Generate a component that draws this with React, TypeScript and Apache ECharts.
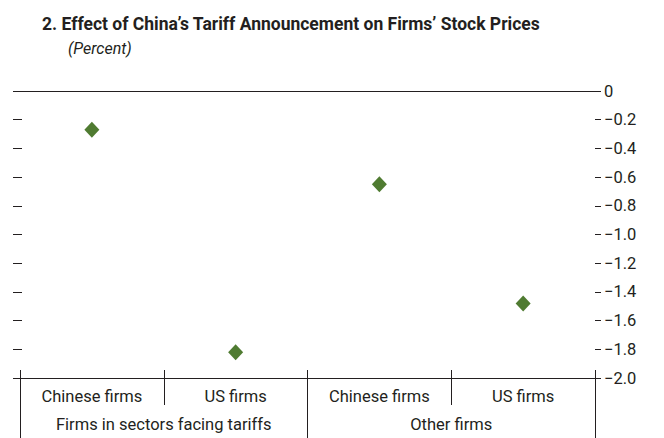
import React, { useEffect, useRef } from "react";
import * as echarts from "echarts";

const firmLabels = ["Chinese firms", "US firms", "Chinese firms", "US firms"];
const groupLabels = ["Firms in sectors facing tariffs", "Other firms"];
const effectValues = [-0.27, -1.82, -0.65, -1.48];
const yMin = -2;
const yMax = 0;
const yStep = 0.2;

const FONT = "Roboto, 'Liberation Sans', sans-serif";
const INK = "#231f20";

export default function App() {
  const ref = useRef<HTMLDivElement>(null);
  useEffect(() => {
    if (!ref.current) return;
    const chart = echarts.init(ref.current, null, { renderer: "svg" });
    const fmt = (v: number) => (v === 0 ? "0" : "\u2212" + Math.abs(v).toFixed(1));
    chart.setOption({
      animation: false,
      textStyle: { fontFamily: FONT, color: INK },
      title: [
        {
          text: "2. Effect of China\u2019s Tariff Announcement on Firms\u2019 Stock Prices",
          left: 37,
          top: 10,
          textStyle: { fontFamily: FONT, fontSize: 17.5, fontWeight: "bold", color: INK },
        },
        {
          text: "(Percent)",
          left: 63,
          top: 35,
          textStyle: { fontFamily: FONT, fontSize: 16, fontStyle: "italic", fontWeight: "normal", color: INK },
        },
      ],
      grid: { left: 20, right: 69, top: 91, bottom: 60, containLabel: false },
      xAxis: [
        {
          type: "category",
          position: "bottom",
          data: firmLabels,
          axisLine: { show: true, onZero: false, lineStyle: { color: INK, width: 1.2 } },
          axisTick: { show: true, interval: 0, length: 27, lineStyle: { color: INK, width: 1 } },
          axisLabel: { interval: 0, margin: 10, fontSize: 16.5, color: INK, fontFamily: FONT },
          splitLine: { show: false },
        },
        {
          type: "category",
          position: "bottom",
          data: firmLabels,
          axisLine: { show: false, onZero: false },
          axisTick: { show: true, inside: true, interval: 0, length: 8, lineStyle: { color: INK, width: 1 } },
          axisLabel: { show: false },
          splitLine: { show: false },
        },
        {
          type: "category",
          position: "bottom",
          data: groupLabels,
          axisLine: { show: false, onZero: false },
          axisTick: { show: true, interval: 0, length: 60, lineStyle: { color: INK, width: 1 } },
          axisLabel: { interval: 0, margin: 38, fontSize: 16.5, color: INK, fontFamily: FONT },
          splitLine: { show: false },
        },
        {
          type: "category",
          position: "top",
          data: firmLabels,
          axisLine: { show: true, onZero: false, lineStyle: { color: INK, width: 1.2 } },
          axisTick: { show: false },
          axisLabel: { show: false },
          splitLine: { show: false },
        },
      ],
      yAxis: [
        {
          type: "value",
          position: "right",
          offset: 0,
          min: yMin,
          max: yMax,
          interval: yStep,
          axisLine: { show: false },
          axisTick: { show: true, length: 6, lineStyle: { color: INK, width: 1 } },
          axisLabel: { margin: 9, fontSize: 16.5, color: INK, fontFamily: FONT, formatter: fmt },
          splitLine: { show: false },
        },
        {
          type: "value",
          position: "left",
          offset: -2,
          min: yMin,
          max: yMax,
          interval: yStep,
          axisLine: { show: false },
          axisTick: { show: true, length: 9, lineStyle: { color: INK, width: 1 } },
          axisLabel: { show: false },
          splitLine: { show: false },
        },
      ],
      series: [
        {
          type: "scatter",
          xAxisIndex: 0,
          yAxisIndex: 0,
          data: effectValues,
          symbol: "diamond",
          symbolSize: [15, 16],
          itemStyle: { color: "#4f7b31", opacity: 1 },
        },
      ],
    });
    return () => chart.dispose();
  }, []);
  return (
    <div
      ref={ref}
      style={{ position: "fixed", left: 0, top: 0, width: 664, height: 438, background: "#fff" }}
    />
  );
}
